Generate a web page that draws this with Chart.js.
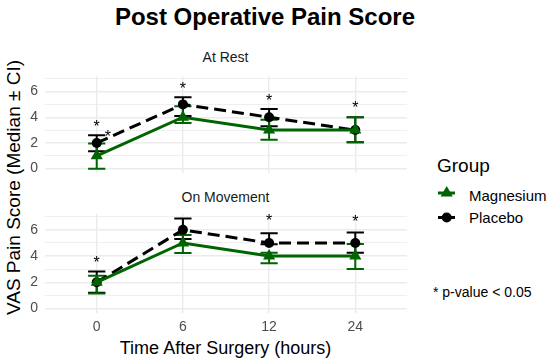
<!DOCTYPE html>
<html>
<head>
<meta charset="utf-8">
<script src="https://cdn.jsdelivr.net/npm/chart.js@4"></script>
<style>
    body { margin: 0; width: 550px; height: 364px; background: #fff; position: relative; overflow: hidden;
           font-family: "Liberation Sans", Arial, sans-serif; color: #000; }
    .txt { position: absolute; white-space: nowrap; line-height: 1; }
    canvas { position: absolute; }
</style>
</head>
<body>
<div class="txt" style="left:0; width:530px; text-align:center; top:5px; font-size:24px; font-weight:bold;">Post Operative Pain Score</div>
<div class="txt" style="left:43px; width:365px; text-align:center; top:50px; font-size:14px; color:#1a1a1a;">At Rest</div>
<div class="txt" style="left:43px; width:365px; text-align:center; top:190px; font-size:14px; color:#1a1a1a;">On Movement</div>
<div class="txt" style="left:43px; width:365px; text-align:center; top:339px; font-size:18px;">Time After Surgery (hours)</div>
<div class="txt" style="left:-137px; width:300px; text-align:center; top:178px; font-size:19px; transform:rotate(-90deg);">VAS Pain Score (Median ± CI)</div>

<div class="txt" style="left:437px; top:156px; font-size:19px;">Group</div>
<div class="txt" style="left:469px; top:188px; font-size:15px;">Magnesium</div>
<div class="txt" style="left:469px; top:210px; font-size:15px;">Placebo</div>
<div class="txt" style="left:433px; top:285px; font-size:14px;">* p-value &lt; 0.05</div>
<svg style="position:absolute; left:430px; top:180px;" width="35" height="50">
    <line x1="8" y1="13" x2="25" y2="13" stroke="#006400" stroke-width="3"/>
    <polygon points="16.7,6 22.8,16.5 10.6,16.5" fill="#006400"/>
    <line x1="8" y1="37.5" x2="25" y2="37.5" stroke="#000" stroke-width="3"/>
    <circle cx="16.7" cy="37.5" r="5" fill="#000"/>
</svg>

<canvas id="restChart" style="left:2px; top:69px;" width="412" height="112"></canvas>
<canvas id="moveChart" style="left:2px; top:207px;" width="412" height="132"></canvas>

<script>
const categories = ['0', '6', '12', '24'];

// At rest
const restMagnesium = [1, 4, 3, 3];
const restMagnesiumLow = [0, 3.55, 2.25, 2.05];
const restMagnesiumHigh = [1.95, 4.85, 3.8, 4.0];
const restPlacebo = [2, 5, 4, 3];
const restPlaceboLow = [1.35, 4.1, 3.3, 2.05];
const restPlaceboHigh = [2.6, 5.55, 4.65, 4.0];
const restStarX = [0, 0.13, 1, 2, 3];
const restStarY = [3.55, 2.75, 6.5, 5.55, 5.05];

// On movement
const moveMagnesium = [2, 5, 4, 4];
const moveMagnesiumLow = [1.15, 4.24, 3.45, 3.02];
const moveMagnesiumHigh = [2.5, 5.6, 4.25, 4.93];
const movePlacebo = [2, 6, 5, 5];
const movePlaceboLow = [1.2, 5.3, 4.9, 4.26];
const movePlaceboHigh = [2.83, 6.87, 5.75, 5.8];
const moveStarX = [0, 2, 3];
const moveStarY = [3.77, 6.97, 6.9];

const yTicks = [0, 2, 4, 6];

const GREEN = '#006400';
const GRID = '#ebebeb';
const FONT = '"Liberation Sans", Arial, sans-serif';

// draws the CI whiskers under the lines and the significance stars on top
const errorBarsPlugin = {
    id: 'errorBars',
    beforeDatasetsDraw(chart, args, opts) {
        const ctx = chart.ctx;
        const xs = chart.scales.x, ys = chart.scales.y;
        ctx.save();
        ctx.lineWidth = 2;
        opts.sets.forEach(function (set) {
            ctx.strokeStyle = set.color;
            set.low.forEach(function (lo, i) {
                const px = xs.getPixelForValue(i);
                const x0 = xs.getPixelForValue(i - 0.1);
                const x1 = xs.getPixelForValue(i + 0.1);
                const yLo = ys.getPixelForValue(lo);
                const yHi = ys.getPixelForValue(set.high[i]);
                ctx.beginPath();
                ctx.moveTo(px, yLo); ctx.lineTo(px, yHi);
                ctx.moveTo(x0, yLo); ctx.lineTo(x1, yLo);
                ctx.moveTo(x0, yHi); ctx.lineTo(x1, yHi);
                ctx.stroke();
            });
        });
        ctx.restore();
    },
    afterDatasetsDraw(chart, args, opts) {
        const ctx = chart.ctx;
        const xs = chart.scales.x, ys = chart.scales.y;
        ctx.save();
        ctx.fillStyle = '#000';
        ctx.font = '16px ' + FONT;
        ctx.textAlign = 'center';
        ctx.textBaseline = 'alphabetic';
        opts.starX.forEach(function (x, i) {
            ctx.fillText('*', xs.getPixelForValue(x), ys.getPixelForValue(opts.starY[i]) + 9);
        });
        ctx.restore();
    }
};

function points(values) {
    return values.map(function (v, i) { return { x: i, y: v }; });
}

function makePanel(canvas, showX, mag, pla, magLow, magHigh, plaLow, plaHigh, starX, starY) {
    return new Chart(canvas, {
        type: 'line',
        data: {
            datasets: [{
                label: 'Magnesium',
                data: points(mag),
                borderColor: GREEN,
                backgroundColor: GREEN,
                borderWidth: 3,
                pointStyle: 'triangle',
                pointRadius: 7,
                pointBorderWidth: 0,
                tension: 0
            }, {
                label: 'Placebo',
                data: points(pla),
                borderColor: '#000',
                backgroundColor: '#000',
                borderWidth: 3,
                borderDash: [12, 6],
                pointStyle: 'circle',
                pointRadius: 5,
                pointBorderWidth: 0,
                tension: 0
            }]
        },
        options: {
            responsive: false,
            animation: false,
            layout: { padding: { top: 4, right: 4, bottom: showX ? 0 : 8, left: 0 } },
            scales: {
                x: {
                    type: 'linear',
                    min: -0.6,
                    max: 3.6,
                    border: { display: false },
                    grid: { color: GRID, lineWidth: 1.4, drawTicks: false },
                    ticks: {
                        display: showX,
                        stepSize: 1,
                        includeBounds: false,
                        autoSkip: false,
                        maxRotation: 0,
                        padding: 6,
                        color: '#4d4d4d',
                        font: { size: 14, family: FONT },
                        callback: function (v) { return categories[v] !== undefined ? categories[v] : ''; }
                    },
                    afterFit: function (scale) {
                        scale.height = showX ? 26 : 0;
                        scale.paddingLeft = 0;
                        scale.paddingRight = 0;
                    }
                },
                y: {
                    min: -0.34,
                    max: 7.21,
                    border: { display: false },
                    grid: {
                        color: GRID,
                        drawTicks: false,
                        lineWidth: function (c) { return c.tick && c.tick.value % 2 === 0 ? 1.4 : 0.8; }
                    },
                    ticks: {
                        stepSize: 1,
                        includeBounds: false,
                        autoSkip: false,
                        padding: 7,
                        color: '#4d4d4d',
                        font: { size: 14, family: FONT },
                        callback: function (v) { return yTicks.indexOf(v) >= 0 ? String(v) : ''; }
                    },
                    afterFit: function (scale) {
                        scale.width = 43;
                        scale.paddingTop = 0;
                        scale.paddingBottom = 0;
                    }
                }
            },
            plugins: {
                legend: { display: false },
                tooltip: { enabled: false },
                errorBars: {
                    sets: [
                        { low: plaLow, high: plaHigh, color: '#000' },
                        { low: magLow, high: magHigh, color: GREEN }
                    ],
                    starX: starX,
                    starY: starY
                }
            }
        },
        plugins: [errorBarsPlugin]
    });
}

makePanel(document.getElementById('restChart'), false,
    restMagnesium, restPlacebo, restMagnesiumLow, restMagnesiumHigh, restPlaceboLow, restPlaceboHigh,
    restStarX, restStarY);
makePanel(document.getElementById('moveChart'), true,
    moveMagnesium, movePlacebo, moveMagnesiumLow, moveMagnesiumHigh, movePlaceboLow, movePlaceboHigh,
    moveStarX, moveStarY);
</script>
</body>
</html>
